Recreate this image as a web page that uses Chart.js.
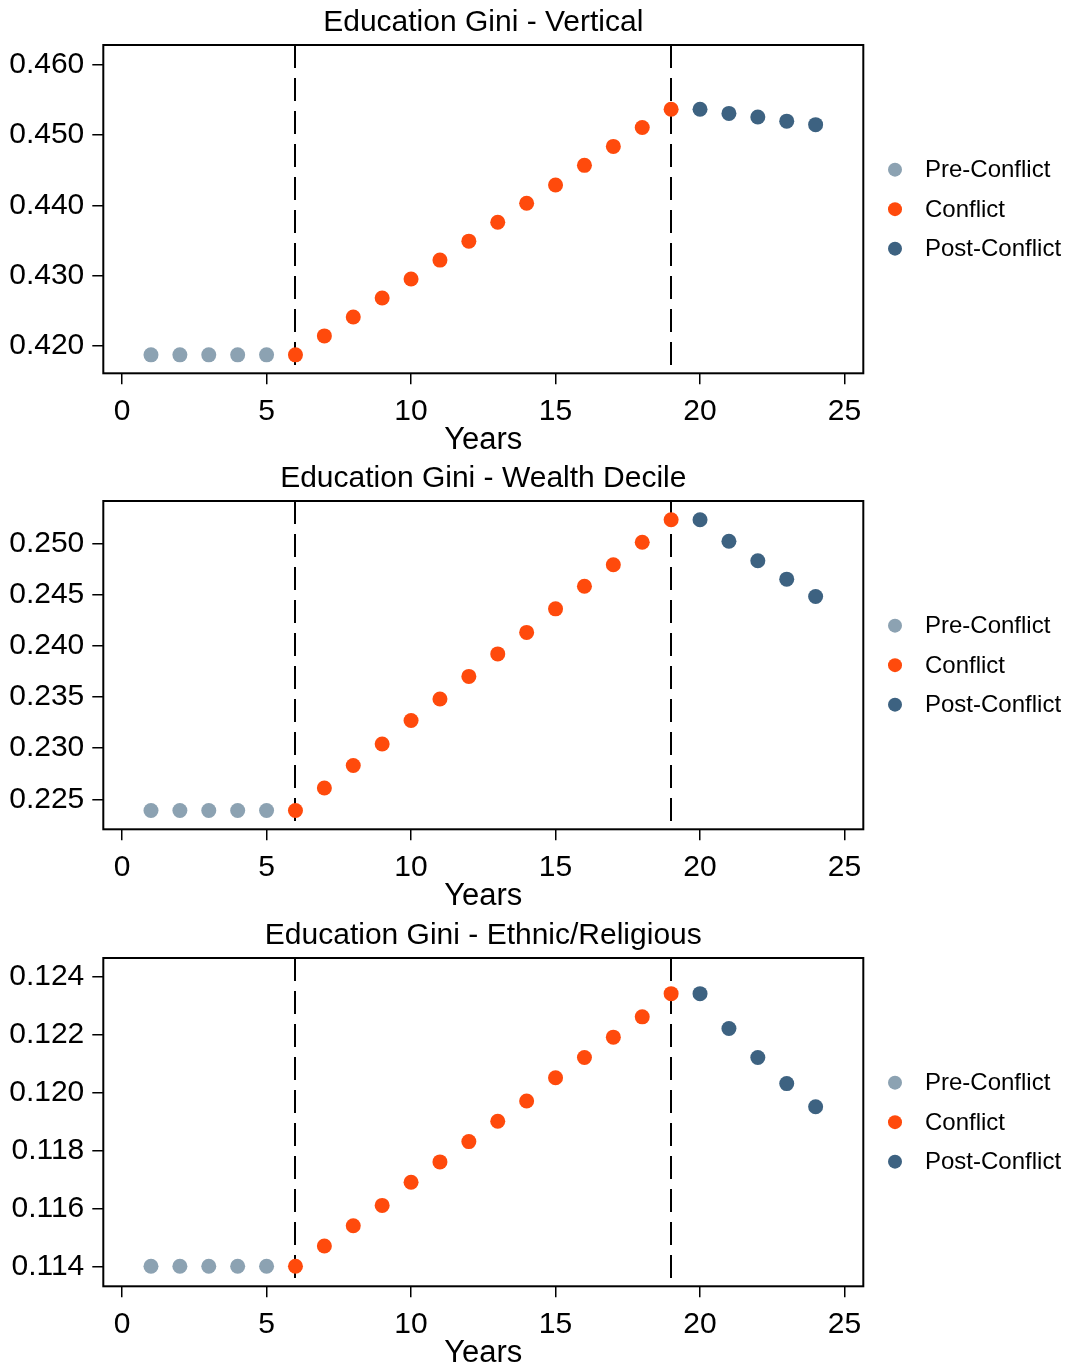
<!DOCTYPE html>
<html>
<head>
<meta charset="utf-8">
<script src="https://cdn.jsdelivr.net/npm/chart.js@4/dist/chart.umd.min.js"></script>
<style>
  html, body { margin: 0; padding: 0; background: #fff; overflow: hidden; }
  body { width: 1069px; height: 1366px; position: relative; }
  .panel { position: absolute; left: 0; width: 1069px; height: 456px; }
</style>
</head>
<body>
<div class="panel" style="top:0px"><canvas id="c1"></canvas></div>
<div class="panel" style="top:456px"><canvas id="c2"></canvas></div>
<div class="panel" style="top:913px"><canvas id="c3"></canvas></div>
<script>
// ---- Data ----
const seriesNames = ["Pre-Conflict", "Conflict", "Post-Conflict"];
const preYears = [1, 2, 3, 4, 5];
const conflictYears = [6, 7, 8, 9, 10, 11, 12, 13, 14, 15, 16, 17, 18, 19];
const postYears = [20, 21, 22, 23, 24];
const phaseBreaks = [6, 19];
const xTickValues = [0, 5, 10, 15, 20, 25];

const titles = ["Education Gini - Vertical", "Education Gini - Wealth Decile", "Education Gini - Ethnic/Religious"];

const verticalPre = [0.4187, 0.4187, 0.4187, 0.4187, 0.4187];
const verticalConflict = [0.4187, 0.4214, 0.4241, 0.4268, 0.4295, 0.4322, 0.4349, 0.4376, 0.4403, 0.4429, 0.4457, 0.4484, 0.4511, 0.4537];
const verticalPost = [0.4537, 0.4531, 0.4526, 0.4520, 0.4515];
const verticalTicks = [0.420, 0.430, 0.440, 0.450, 0.460];

const wealthPre = [0.2239, 0.2239, 0.2239, 0.2239, 0.2239];
const wealthConflict = [0.2239, 0.2261, 0.2283, 0.2304, 0.2327, 0.2348, 0.2370, 0.2392, 0.2413, 0.2436, 0.2458, 0.2479, 0.2501, 0.2523];
const wealthPost = [0.2523, 0.2502, 0.2483, 0.2465, 0.2448];
const wealthTicks = [0.225, 0.230, 0.235, 0.240, 0.245, 0.250];

const ethnicPre = [0.1140, 0.1140, 0.1140, 0.1140, 0.1140];
const ethnicConflict = [0.1140, 0.1147, 0.1154, 0.1161, 0.1169, 0.1176, 0.1183, 0.1190, 0.1197, 0.1205, 0.1212, 0.1219, 0.1226, 0.1234];
const ethnicPost = [0.1234, 0.1222, 0.1212, 0.1203, 0.1195];
const ethnicTicks = [0.114, 0.116, 0.118, 0.120, 0.122, 0.124];

// ---- Styling ----
const colors = ["#8ca2b2", "#ff4a0c", "#3d6281"];
const FONT = "'Liberation Sans', Arial, Helvetica, sans-serif";

function pts(xs, ys) { return xs.map((x, i) => ({ x: x, y: ys[i] })); }

const frameAndLines = {
  id: 'frameAndLines',
  beforeDatasetsDraw(chart) {
    const { ctx, chartArea: a, scales } = chart;
    ctx.save();
    ctx.strokeStyle = '#000';
    ctx.lineWidth = 2;
    ctx.setLineDash([23, 10]);
    phaseBreaks.forEach(v => {
      const px = Math.round(scales.x.getPixelForValue(v));
      ctx.beginPath();
      ctx.moveTo(px, a.top);
      ctx.lineTo(px, a.bottom);
      ctx.stroke();
    });
    ctx.setLineDash([]);
    ctx.lineWidth = 2;
    ctx.strokeRect(a.left, a.top, a.right - a.left, a.bottom - a.top);
    ctx.restore();
  },
  afterDraw(chart) {
    const { ctx, chartArea: a } = chart;
    const cy = (a.top + a.bottom) / 2;
    ctx.save();
    ctx.font = "24px " + FONT;
    ctx.textAlign = 'left';
    ctx.textBaseline = 'middle';
    seriesNames.forEach((name, i) => {
      const y = cy + (i - 1) * 39.5;
      ctx.fillStyle = colors[i];
      ctx.beginPath();
      ctx.arc(895, y, 7, 0, Math.PI * 2);
      ctx.fill();
      ctx.fillStyle = '#000';
      ctx.fillText(name, 925, y + 1);
    });
    ctx.restore();
  }
};

function makeChart(id, title, pre, conf, post, yTicks, yMin, yMax) {
  return new Chart(document.getElementById(id), {
    type: 'scatter',
    data: {
      datasets: [
        { label: seriesNames[0], data: pts(preYears, pre), backgroundColor: colors[0], borderColor: colors[0], pointRadius: 7.5, pointBorderWidth: 0 },
        { label: seriesNames[1], data: pts(conflictYears, conf), backgroundColor: colors[1], borderColor: colors[1], pointRadius: 7.5, pointBorderWidth: 0 },
        { label: seriesNames[2], data: pts(postYears, post), backgroundColor: colors[2], borderColor: colors[2], pointRadius: 7.5, pointBorderWidth: 0 }
      ]
    },
    options: {
      responsive: true,
      maintainAspectRatio: false,
      animation: false,
      layout: { padding: { left: 0, right: 205.7, top: 0, bottom: 0 } },
      plugins: {
        legend: { display: false },
        tooltip: { enabled: false },
        title: {
          display: true,
          text: title,
          fullSize: false,
          color: '#000',
          font: { family: FONT, size: 30, weight: 'normal', lineHeight: 1.2 },
          padding: { top: 5, bottom: 4 }
        }
      },
      scales: {
        x: {
          type: 'linear',
          min: -0.65,
          max: 25.65,
          afterFit(s) { s.height = 82.7; },
          afterBuildTicks(s) { s.ticks = xTickValues.map(v => ({ value: v })); },
          border: { display: false },
          grid: { drawOnChartArea: false, drawTicks: true, tickLength: 11, color: '#000', lineWidth: 1.5 },
          ticks: { color: '#000', padding: 9, maxRotation: 0, autoSkip: false, font: { family: FONT, size: 30 } },
          title: { display: true, text: 'Years', color: '#000', padding: 0, font: { family: FONT, size: 31, lineHeight: 1.0 } }
        },
        y: {
          type: 'linear',
          min: yMin,
          max: yMax,
          afterFit(s) { s.width = 103.3; },
          afterBuildTicks(s) { s.ticks = yTicks.map(v => ({ value: v })); },
          border: { display: false },
          grid: { drawOnChartArea: false, drawTicks: true, tickLength: 11, color: '#000', lineWidth: 1.5 },
          ticks: { color: '#000', padding: 8, autoSkip: false, font: { family: FONT, size: 30 }, callback: v => Number(v).toFixed(3) }
        }
      }
    },
    plugins: [frameAndLines]
  });
}

makeChart('c1', titles[0], verticalPre, verticalConflict, verticalPost, verticalTicks, 0.41607, 0.46285);
makeChart('c2', titles[1], wealthPre, wealthConflict, wealthPost, wealthTicks, 0.22207, 0.25413);
makeChart('c3', titles[2], ethnicPre, ethnicConflict, ethnicPost, ethnicTicks, 0.11331, 0.12463);
</script>
</body>
</html>
